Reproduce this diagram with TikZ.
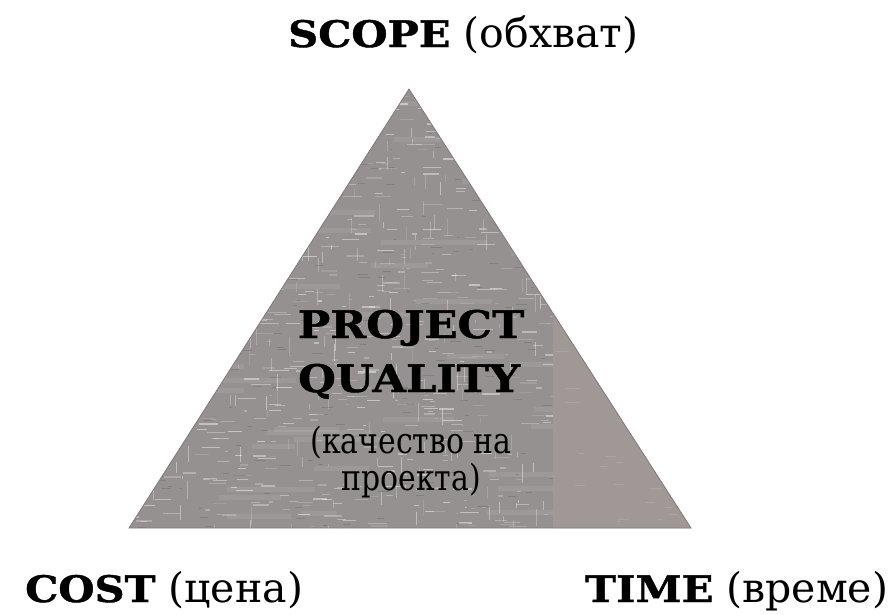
\documentclass[tikz,border=0pt]{standalone}
\usepackage{fontspec}
\setmainfont{DejaVu Serif}
\newfontfamily\slab{DejaVu Serif}[FakeStretch=1.14, BoldFeatures={FakeBold=1.2}]
\newfontfamily\cyr{DejaVu Serif}[FakeStretch=0.83]
\definecolor{trifill}{RGB}{150,145,145}
\definecolor{triedge}{RGB}{130,120,120}
\definecolor{rectfill}{RGB}{160,151,151}
\tikzset{
  lbl/.style={anchor=base west, inner sep=0pt, font=\fontsize{41}{44}\selectfont},
  cl/.style={anchor=base, inner sep=0pt},
}
\newcommand{\bw}[1]{{\fontsize{36.5}{40}\selectfont\slab\bfseries #1}}
\begin{document}
\begin{tikzpicture}[x=1pt,y=-1pt]
\useasboundingbox (0,0) rectangle (891,614);
\coordinate (apex) at (409,89);
\coordinate (bl) at (129,528);
\coordinate (br) at (691,528);
\begin{scope}
  \clip (apex) -- (bl) -- (br) -- cycle;
  \fill[trifill] (apex) -- (bl) -- (br) -- cycle;
  \pgfmathsetseed{7}
  \foreach \i in {1,...,60}{
    \pgfmathsetmacro\xx{129+rnd*562}
    \pgfmathsetmacro\yy{89+rnd*440}
    \pgfmathsetmacro\ll{30+rnd*80}
    \draw[white, opacity=0.08, line width=5pt] (\xx,\yy) -- ++(\ll,0);
  }
  \foreach \i in {1,...,750}{
    \pgfmathsetmacro\xx{129+rnd*562}
    \pgfmathsetmacro\yy{89+rnd*440}
    \pgfmathsetmacro\ll{2+rnd*18}
    \pgfmathsetmacro\op{0.12+rnd*0.35}
    \draw[white, opacity=\op, line width=1.2pt] (\xx,\yy) -- ++(\ll,0);
  }
  \foreach \i in {1,...,300}{
    \pgfmathsetmacro\xx{129+rnd*562}
    \pgfmathsetmacro\yy{89+rnd*440}
    \pgfmathsetmacro\ll{3+rnd*16}
    \pgfmathsetmacro\op{0.12+rnd*0.3}
    \draw[white, opacity=\op, line width=1pt] (\xx,\yy) -- ++(0,\ll);
  }
  \foreach \i in {1,...,250}{
    \pgfmathsetmacro\xx{129+rnd*562}
    \pgfmathsetmacro\yy{89+rnd*440}
    \pgfmathsetmacro\ll{2+rnd*10}
    \draw[black, opacity=0.12, line width=1pt] (\xx,\yy) -- ++(\ll,0);
  }
  \fill[rectfill] (553,300) rectangle (700,530);
  \pgfmathsetseed{3}
  \foreach \i in {1,...,40}{
    \pgfmathsetmacro\xx{553+rnd*140}
    \pgfmathsetmacro\yy{320+rnd*210}
    \pgfmathsetmacro\ll{3+rnd*12}
    \draw[white, opacity=0.12, line width=1pt] (\xx,\yy) -- ++(\ll,0);
  }
\end{scope}
\draw[triedge, line width=0.8pt] (apex) -- (bl) -- (br) -- cycle;

\node[lbl] (scope) at (288,47) {\bw{SCOPE} (обхват)};
\node[lbl] (cost) at (25,602) {\bw{COST} (цена)};
\node[lbl] (time) at (585,602) {\bw{TIME} (време)};

\node[cl, font=\fontsize{38}{40}\selectfont\slab\bfseries] (q1) at (411,338) {PROJECT};
\node[cl, font=\fontsize{38}{40}\selectfont\slab\bfseries] (q2) at (409,392) {QUALITY};
\node[cl, font=\fontsize{36}{40}\selectfont\cyr] (q3) at (411,453) {(качество на};
\node[cl, font=\fontsize{36}{40}\selectfont\cyr] (q4) at (411,490) {проекта)};
\end{tikzpicture}
\end{document}
